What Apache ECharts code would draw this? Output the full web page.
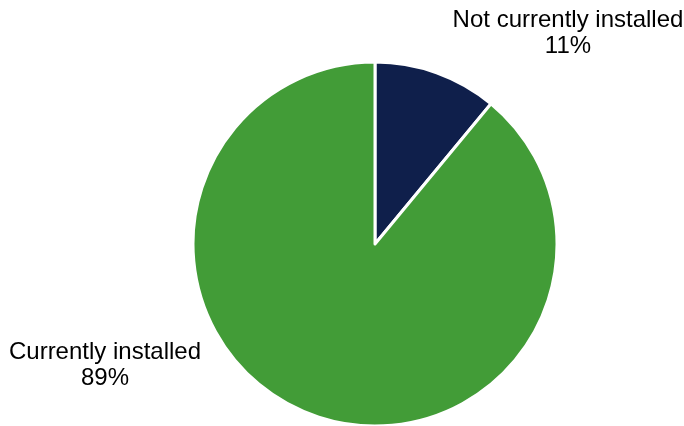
<!DOCTYPE html>
<html>
<head>
<meta charset="utf-8">
<script src="https://cdn.jsdelivr.net/npm/echarts@6/dist/echarts.min.js"></script>
<style>
  html, body {margin: 0; padding: 0; background: #fff;}
  #chart {width: 684px; height: 426px;}
</style>
</head>
<body>
<div id="chart"></div>
<script>
const categories = ["Not currently installed", "Currently installed"];
const values = [11, 89];
const colors = ["#0f1f4b", "#429c37"];
// where each label block sits (centre of the two-line text)
const labelSpots = [[568, 33], [105, 365]];

const chart = echarts.init(document.getElementById("chart"));

const option = {
  animation: false,
  series: [
    {
      type: "pie",
      center: [375, 244],
      radius: 182,
      startAngle: 90,
      clockwise: true,
      data: categories.map((name, i) => ({
        name: name,
        value: values[i],
        itemStyle: {color: colors[i]},
      })),
      itemStyle: {borderColor: "#fff", borderWidth: 3},
      label: {
        show: true,
        formatter: "{b}\n{c}%",
        fontFamily: "Liberation Sans, Arial, sans-serif",
        fontSize: 24,
        lineHeight: 26,
        color: "#000",
        align: "center",
        overflow: "none",
        width: 300,
      },
      labelLine: {show: false},
      labelLayout: (params) => ({
        x: labelSpots[params.dataIndex][0],
        y: labelSpots[params.dataIndex][1],
        align: "center",
        verticalAlign: "middle",
      }),
    },
  ],
};

chart.setOption(option);
</script>
</body>
</html>
